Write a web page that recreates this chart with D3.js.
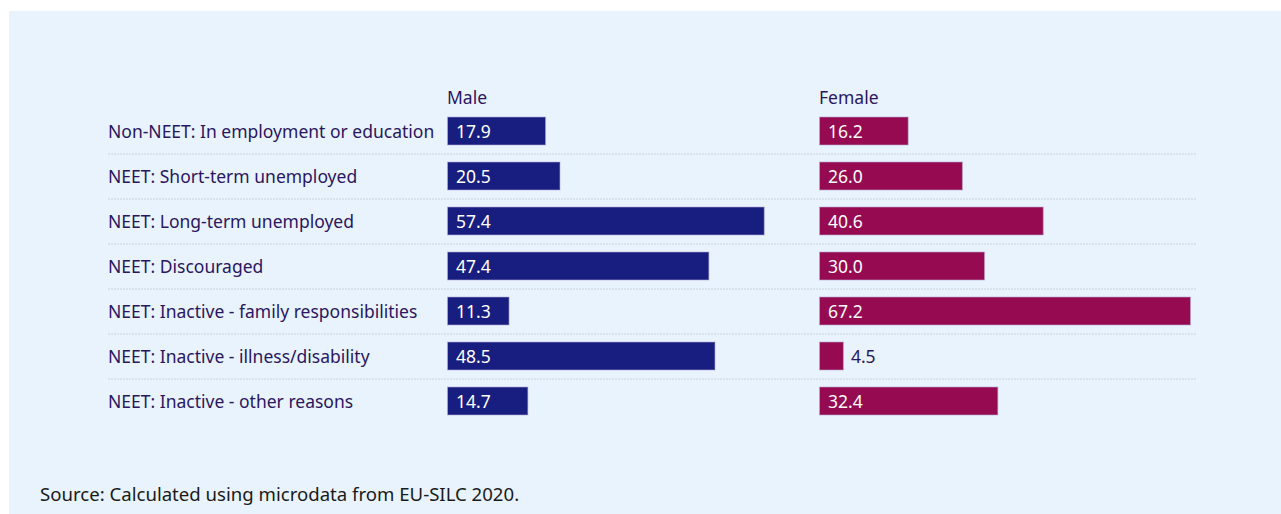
<!DOCTYPE html>
<html><head><meta charset="utf-8">
<script src="https://cdn.jsdelivr.net/npm/d3@7"></script>
<style>
html,body{margin:0;padding:0;background:#fff;}
svg{display:block;font-family:"Noto Sans","Open Sans",sans-serif;}
</style></head>
<body>
<svg id="chart" width="1281" height="514"></svg>
<script>
const categories = [
  "Non-NEET: In employment or education",
  "NEET: Short-term unemployed",
  "NEET: Long-term unemployed",
  "NEET: Discouraged",
  "NEET: Inactive - family responsibilities",
  "NEET: Inactive - illness/disability",
  "NEET: Inactive - other reasons"
];
const maleValues = [17.9, 20.5, 57.4, 47.4, 11.3, 48.5, 14.7];
const femaleValues = [16.2, 26.0, 40.6, 30.0, 67.2, 4.5, 32.4];
const seriesNames = ["Male", "Female"];
const sourceText = "Source: Calculated using microdata from EU-SILC 2020.";

const svg = d3.select("#chart");
svg.append("rect").attr("x", 9).attr("y", 11).attr("width", 1272).attr("height", 503).attr("fill", "#e8f3fd");

const y = d3.scaleBand().domain(categories).range([108.5, 423.5]).paddingInner(16/45).paddingOuter(8/45);
const x = d3.scaleLinear().domain([0, 70]).range([0, 387.5]);

const textColor = "#2b1660";
const panels = [
  {name: seriesNames[0], values: maleValues, x0: 447, color: "#171e80"},
  {name: seriesNames[1], values: femaleValues, x0: 819, color: "#960a51"}
];

// separators
const seps = categories.slice(1);
svg.append("g").selectAll("line").data(seps).join("line")
  .attr("x1", 108).attr("x2", 1196)
  .attr("y1", d => y(d) - y.step()*y.paddingInner() / 2 + 0.5)
  .attr("y2", d => y(d) - y.step()*y.paddingInner() / 2 + 0.5)
  .attr("stroke", "#c9d2dc").attr("stroke-width", 1).attr("stroke-dasharray", "2,1");

// category labels
svg.append("g").selectAll("text").data(categories).join("text")
  .attr("x", 108).attr("y", d => y(d) + y.bandwidth()/2 + 7)
  .attr("fill", textColor).attr("font-size", 17.5).text(d => d);

panels.forEach(p => {
  svg.append("text").attr("x", p.x0).attr("y", 104).attr("fill", textColor)
    .attr("font-size", 17.5).text(p.name);
  const g = svg.append("g").attr("transform", `translate(${p.x0},0)`);
  g.selectAll("rect").data(p.values).join("rect")
    .attr("x", 0.5).attr("y", (d,i) => y(categories[i]) + 0.5)
    .attr("width", d => x(d) - 1).attr("height", y.bandwidth() - 1)
    .attr("fill", p.color).attr("stroke", "#b9a8d6").attr("stroke-opacity", 0.6).attr("stroke-width", 1);
  g.selectAll("text").data(p.values).join("text")
    .attr("x", d => x(d) < 40 ? x(d) + 7 : 9)
    .attr("y", (d,i) => y(categories[i]) + y.bandwidth()/2 + 7)
    .attr("fill", d => x(d) < 40 ? textColor : "#ffffff")
    .attr("font-size", 17.5).text(d => d.toFixed(1));
});

svg.append("text").attr("x", 40).attr("y", 501).attr("fill", "#1a1a1a")
  .attr("font-size", 18.6).text(sourceText);
</script>
</body></html>
